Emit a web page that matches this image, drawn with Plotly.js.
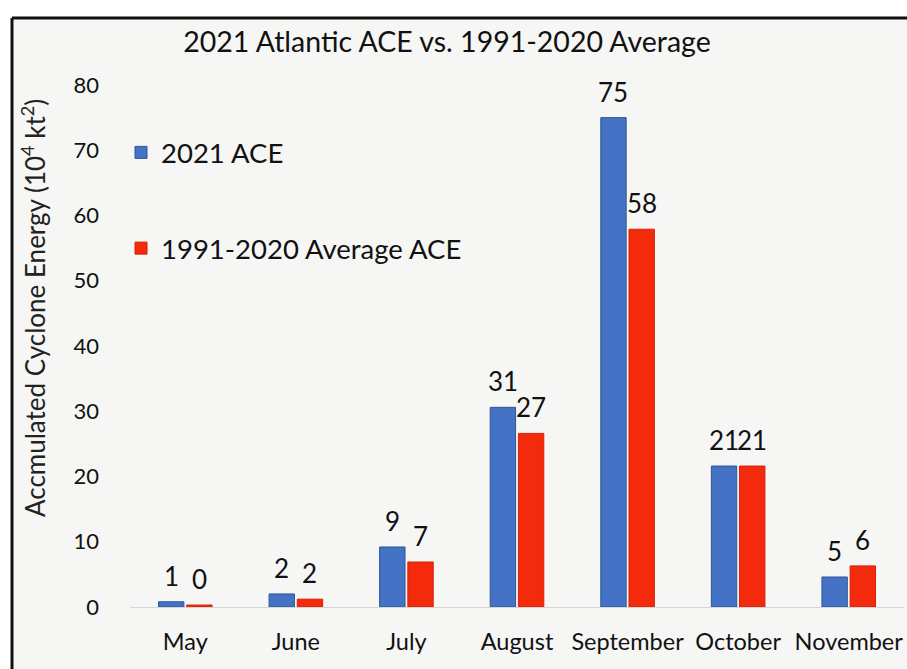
<!DOCTYPE html>
<html><head><meta charset="utf-8">
<script src="https://cdn.plot.ly/plotly-3.0.1.min.js"></script>
<style>html,body{margin:0;padding:0;background:#fff;}#chart{width:907px;height:669px;}</style>
</head><body><div id="chart"></div>
<script>
const months = ["May","June","July","August","September","October","November"];
const ace2021 = [0.8, 2.0, 9.2, 30.6, 75.0, 21.6, 4.6];
const ace2021Labels = ["1","2","9","31","75","21","5"];
const aceAvg = [0.3, 1.2, 6.9, 26.6, 57.9, 21.6, 6.3];
const aceAvgLabels = ["0","2","7","27","58","21","6"];
const yTicks = [0,10,20,30,40,50,60,70,80];

const FONT = "Lato, Noto Sans, sans-serif";
const W = 907, H = 669, ML = 130, MR = 3, MT = 85, MB = 62;
const BARGAP = 0.49;
const plotW = W - ML - MR;
const slotPx = plotW / months.length * (1 - BARGAP) / 2;

const traces = [
  {type:"bar", name:"2021 ACE", x:months, y:ace2021, legendgroup:"a",
   marker:{color:"#4472C4", line:{color:"#2F5597", width:1}}, hoverinfo:"x+y"},
  {type:"bar", name:"1991-2020 Average ACE", x:months, y:aceAvg, legendgroup:"b",
   marker:{color:"#F42A0C", line:{color:"#D82008", width:1}}, hoverinfo:"x+y"}
];

const labelFont = {family:FONT, size:26, color:"#111"};
const annotations = [];
months.forEach((m, i) => {
  annotations.push({x:m, y:ace2021[i], text:ace2021Labels[i], xref:"x", yref:"y", showarrow:false,
    xanchor:"center", yanchor:"bottom", xshift:-slotPx/2, yshift:8, font:labelFont});
  annotations.push({x:m, y:aceAvg[i], text:aceAvgLabels[i], xref:"x", yref:"y", showarrow:false,
    xanchor:"center", yanchor:"bottom", xshift:slotPx/2, yshift:8, font:labelFont});
});
annotations.push({text:"Accmulated Cyclone Energy (10<sup>4</sup> kt<sup>2</sup>)", xref:"paper", yref:"paper",
    x:(33-ML)/plotW, y:(H-MB-308)/(H-MT-MB), xanchor:"center", yanchor:"middle", textangle:-90, showarrow:false,
    font:{family:FONT,size:26,color:"#222"}});

const topPaper = 1 + (MT-18)/(H-MT-MB);
const leftPaper = (12-ML)/plotW;
const layout = {
  width:W, height:H,
  margin:{l:ML, r:MR, t:MT, b:MB},
  paper_bgcolor:"#f6f6f4", plot_bgcolor:"#f6f6f4",
  font:{family:FONT, color:"#111"},
  barmode:"group", bargap:BARGAP, bargroupgap:0.1,
  showlegend:true,
  legend:{x:-0.0116, y:(H-MB-128)/(H-MT-MB), xanchor:"left", yanchor:"top", bgcolor:"rgba(0,0,0,0)",
          font:{family:FONT,size:27.5,color:"#111"}, traceorder:"grouped", tracegroupgap:57,
          itemwidth:30},
  title:{text:"2021 Atlantic ACE vs. 1991-2020 Average", xref:"container", x:447/W, xanchor:"center",
         yref:"container", y:1-42/H, yanchor:"middle", font:{family:FONT,size:28.5,color:"#111"}},
  xaxis:{type:"category", showgrid:false, showline:true, linecolor:"#d6d6d6", linewidth:1,
         ticks:"", tickfont:{family:FONT,size:23.5,color:"#111"}, ticklabelstandoff:14},
  yaxis:{range:[0,80], tickmode:"array", tickvals:yTicks, showgrid:false, zeroline:false, showline:false,
         ticks:"", tickfont:{family:FONT,size:22,color:"#111"}, ticklabelstandoff:30},
  annotations:annotations,
  shapes:[
    {type:"rect", xref:"paper", yref:"paper", x0:-0.2, x1:1.01, y0:1.3, y1:topPaper, fillcolor:"#ffffff", line:{width:0}, layer:"below"},
    {type:"rect", xref:"paper", yref:"paper", x0:-0.2, x1:leftPaper, y0:-0.2, y1:1.3, fillcolor:"#ffffff", line:{width:0}, layer:"below"},
    {type:"line", xref:"paper", yref:"paper", x0:leftPaper, x1:leftPaper, y0:-0.2, y1:topPaper, line:{color:"#111",width:3}},
    {type:"line", xref:"paper", yref:"paper", x0:leftPaper, x1:1.01, y0:topPaper, y1:topPaper, line:{color:"#111",width:3}}
  ]
};
Plotly.newPlot("chart", traces, layout, {displayModeBar:false, staticPlot:true});
</script></body></html>
